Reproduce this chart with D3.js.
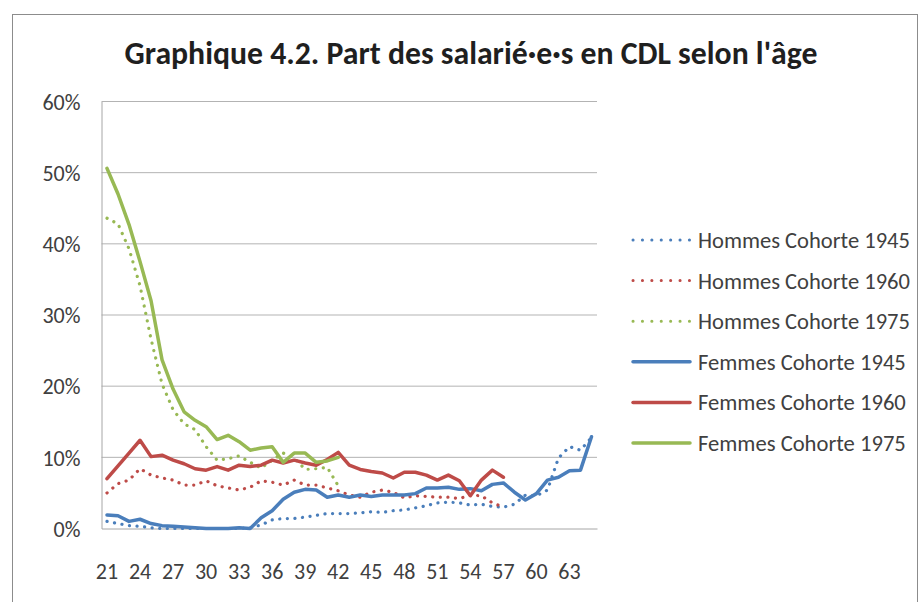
<!DOCTYPE html>
<html>
<head>
<meta charset="utf-8">
<script src="https://cdn.jsdelivr.net/npm/d3@7"></script>
<style>
  body { margin: 0; background: #fff; }
  svg text { font-family: Carlito, "Open Sans", "Noto Sans", sans-serif; fill: #404040; }
  .axis path { stroke: #a6a6a6; }
  .gridline { stroke: #b3b3b3; stroke-width: 1; }
</style>
</head>
<body>
<svg id="chart"></svg>
<script>
// canvas
var width = 920;
var height = 602;
var plot = {"left": 101.5, "right": 597, "top": 101.5, "bottom": 528.5};

// data (share in %)
var ages = [21, 22, 23, 24, 25, 26, 27, 28, 29, 30, 31, 32, 33, 34, 35, 36, 37, 38, 39, 40, 41, 42, 43,
            44, 45, 46, 47, 48, 49, 50, 51, 52, 53, 54, 55, 56, 57, 58, 59, 60, 61, 62, 63, 64, 65];
var xTickLabels = [21, 24, 27, 30, 33, 36, 39, 42, 45, 48, 51, 54, 57, 60, 63];
var yTicks = [0, 10, 20, 30, 40, 50, 60];

var hommes1945 = [1.0, 0.7, 0.4, 0.3, 0.1, 0, 0, 0, 0, 0, 0, 0, 0, 0.1, 0.5, 1.2, 1.4, 1.4, 1.6, 1.85, 2.1, 2.1, 2.1,
                  2.2, 2.35, 2.25, 2.5, 2.6, 2.9, 3.2, 3.6, 3.7, 3.6, 3.3, 3.4, 3.1, 3.0, 3.4, 4.7, 4.6, 5.4, 9.9, 11.5, 11.0, 12.8];
var hommes1960 = [5.0, 6.3, 6.8, 8.4, 7.5, 7.1, 6.8, 6.1, 6.1, 6.7, 6.0, 5.7, 5.4, 5.8, 6.7, 6.5, 6.1, 6.8, 6.1, 6.1, 5.7, 5.3, 4.7,
                  4.4, 5.1, 5.4, 5.1, 4.3, 4.6, 4.5, 4.4, 4.4, 4.2, 4.7, 4.6, 3.6, 3.0, null, null, null, null, null, null, null, null];
var hommes1975 = [43.6, 42.8, 39.3, 34.1, 26.6, 20.3, 16.7, 14.7, 13.9, 11.5, 9.6, 9.8, 10.2, 9.3, 8.5, 9.6, 10.6, 9.9, 8.3, 8.4, 8.6, 6.0, null,
                  null, null, null, null, null, null, null, null, null, null, null, null, null, null, null, null, null, null, null, null, null, null];
var femmes1945 = [1.9, 1.8, 1.0, 1.3, 0.7, 0.4, 0.3, 0.2, 0.1, 0, 0, 0, 0.1, 0, 1.5, 2.5, 4.1, 5.1, 5.5, 5.4, 4.4, 4.7, 4.4,
                  4.7, 4.5, 4.7, 4.7, 4.7, 4.9, 5.7, 5.7, 5.8, 5.5, 5.6, 5.3, 6.2, 6.4, 5.1, 4.0, 4.9, 6.8, 7.2, 8.1, 8.2, 12.9];
var femmes1960 = [7.0, 8.8, 10.6, 12.4, 10.1, 10.3, 9.6, 9.1, 8.4, 8.2, 8.7, 8.2, 8.9, 8.7, 8.9, 9.6, 9.2, 9.6, 9.2, 8.9, 9.7, 10.7, 8.9,
                  8.3, 8.0, 7.8, 7.1, 7.9, 7.9, 7.5, 6.8, 7.5, 6.7, 4.6, 6.8, 8.2, 7.2, null, null, null, null, null, null, null, null];
var femmes1975 = [50.6, 47.0, 42.7, 37.5, 32.0, 23.7, 19.6, 16.4, 15.2, 14.3, 12.5, 13.1, 12.2, 11.0, 11.3, 11.5, 9.3, 10.6, 10.6, 9.3, 9.5, 10.0, null,
                  null, null, null, null, null, null, null, null, null, null, null, null, null, null, null, null, null, null, null, null, null, null];

var seriesNames = ["Hommes Cohorte 1945", "Hommes Cohorte 1960", "Hommes Cohorte 1975",
                   "Femmes Cohorte 1945", "Femmes Cohorte 1960", "Femmes Cohorte 1975"];
var seriesValues = [hommes1945, hommes1960, hommes1975, femmes1945, femmes1960, femmes1975];

var colors = ["#4a7ebb", "#be4b48", "#98b954", "#4a7ebb", "#be4b48", "#98b954"];

var svg = d3.select("svg#chart")
  .attr("width", width)
  .attr("height", height);

// chart frame
svg.append("rect")
  .attr("x", 12.5)
  .attr("y", 14.5)
  .attr("width", 905)
  .attr("height", 620)
  .attr("fill", "none")
  .attr("stroke", "#8c8c8c")
  .attr("stroke-width", 1);

// fit a text element to a given width by changing its font size
function fitText(sel, target) {
  var node = sel.node();
  var fs = parseFloat(sel.style("font-size"));
  var w = node.getComputedTextLength();
  sel.style("font-size", (fs * target / w) + "px");
}

var title = svg.append("text")
  .attr("x", 471)
  .attr("y", 64)
  .style("text-anchor", "middle")
  .style("font-size", "24px")
  .style("font-weight", "bold")
  .style("fill", "#1f1f1f")
  .text("Graphique 4.2. Part des salarié·e·s en CDL selon l'âge");
fitText(title, 693);

var xScale = d3.scaleBand()
  .domain(ages)
  .range([plot.left, plot.right]);

var yScale = d3.scaleLinear()
  .domain([0, 60])
  .range([plot.bottom, plot.top]);

// grid lines
svg.selectAll("line.gridline")
  .data(yTicks.slice(1))
  .enter()
  .append("line")
  .attr("class", "gridline")
  .attr("x1", plot.left)
  .attr("x2", plot.right)
  .attr("y1", function(d) { return yScale(d); })
  .attr("y2", function(d) { return yScale(d); });

// y axis
var yAxis = d3.axisLeft(yScale)
  .tickValues(yTicks)
  .tickSize(0)
  .tickPadding(21)
  .tickFormat(function(d) { return d + "%"; });

var gy = svg.append("g")
  .attr("class", "axis")
  .attr("transform", "translate(" + plot.left + ",0)")
  .call(yAxis);
gy.select(".domain").attr("stroke", "#a6a6a6");
gy.selectAll("text").style("font-size", "22px").attr("dy", "0.35em");

// x axis
var xAxis = d3.axisBottom(xScale)
  .tickValues(xTickLabels)
  .tickSize(0)
  .tickPadding(43);

var gx = svg.append("g")
  .attr("class", "axis")
  .attr("transform", "translate(0," + plot.bottom + ")")
  .call(xAxis);
gx.select(".domain").attr("stroke", "#a6a6a6");
gx.selectAll("text").style("font-size", "22px").attr("dy", "0.35em");

// lines
var line = d3.line()
  .defined(function(d) { return d.v !== null; })
  .x(function(d) { return xScale(d.age) + xScale.bandwidth() / 2; })
  .y(function(d) { return yScale(d.v); });

seriesValues.forEach(function(vals, i) {
  var pts = ages.map(function(a, j) { return {"age": a, "v": vals[j]}; });
  var dotted = i < 3;
  svg.append("path")
    .attr("d", line(pts))
    .attr("fill", "none")
    .attr("stroke", colors[i])
    .attr("stroke-width", dotted ? 3.2 : 3.5)
    .attr("stroke-linecap", "round")
    .attr("stroke-linejoin", "round")
    .attr("stroke-dasharray", dotted ? "0.1 7.5" : null);
});

// legend
var legend_el = svg.selectAll("g.legend_el")
  .data(seriesNames)
  .enter()
  .append("g")
  .attr("class", "legend_el")
  .attr("transform", function(d, i) {
    return "translate(632," + (240 + i * 40.6) + ")";
  });

legend_el.append("line")
  .attr("x1", 1)
  .attr("x2", 58)
  .attr("stroke", function(d, i) { return colors[i]; })
  .attr("stroke-width", function(d, i) { return i < 3 ? 3 : 3.5; })
  .attr("stroke-linecap", "round")
  .attr("stroke-dasharray", function(d, i) { return i < 3 ? "0.1 9.3" : null; });

legend_el.append("text")
  .attr("x", 66)
  .attr("dy", "0.35em")
  .style("font-size", "18px")
  .text(function(d) { return d; })
  .each(function(d) {
    fitText(d3.select(this), d.indexOf("Hommes") === 0 ? 212 : 208);
  });
</script>
</body>
</html>
